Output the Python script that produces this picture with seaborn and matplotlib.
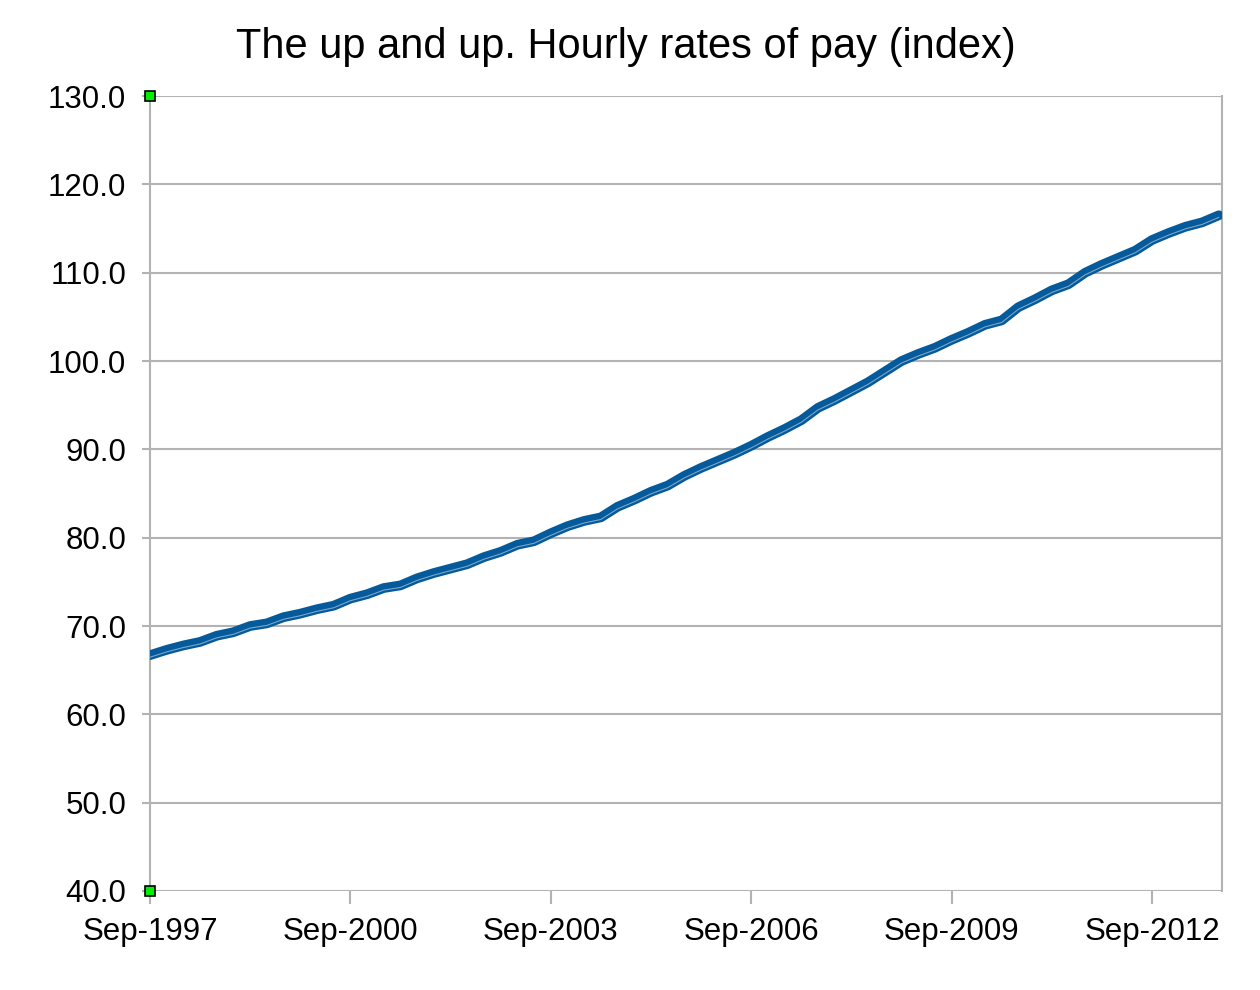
import matplotlib
matplotlib.use("Agg")
import matplotlib.pyplot as plt
import matplotlib.transforms as mtransforms
import pandas as pd
import seaborn as sns

# Quarterly index, Sep-1997 .. Sep-2013
pay_index = [
    66.7, 67.3, 67.8, 68.2, 68.9, 69.3, 70.0, 70.3, 71.0, 71.4,
    71.9, 72.3, 73.1, 73.6, 74.3, 74.6, 75.4, 76.0, 76.5, 77.0,
    77.8, 78.4, 79.2, 79.6, 80.5, 81.3, 81.9, 82.3, 83.5, 84.3,
    85.2, 85.9, 87.0, 87.9, 88.7, 89.5, 90.4, 91.4, 92.3, 93.3,
    94.7, 95.6, 96.6, 97.6, 98.8, 100.0, 100.8, 101.5, 102.4, 103.2,
    104.1, 104.6, 106.1, 107.0, 108.0, 108.7, 110.0, 110.9, 111.7, 112.5,
    113.7, 114.5, 115.2, 115.7, 116.5,
]
quarter = list(range(len(pay_index)))
tick_pos = [0, 12, 24, 36, 48, 60]
tick_labels = ["Sep-1997", "Sep-2000", "Sep-2003", "Sep-2006", "Sep-2009", "Sep-2012"]
y_ticks = [40, 50, 60, 70, 80, 90, 100, 110, 120, 130]

df = pd.DataFrame({"quarter": quarter, "index": pay_index})

sns.set_style("white")
plt.rcParams["font.family"] = ["Liberation Sans", "DejaVu Sans"]
plt.rcParams["text.color"] = "black"
plt.rcParams["xtick.labelcolor"] = "black"
plt.rcParams["ytick.labelcolor"] = "black"

fig = plt.figure(figsize=(12.6, 9.9), dpi=100)
ax = fig.add_axes([0.119, 0.1, 0.851, 0.803])

grid_col = "#b3b3b3"

# main line (dark) plus a thin lighter highlight just below its centre
sns.lineplot(data=df, x="quarter", y="index", ax=ax, color="#045a9a", lw=7, zorder=3)
shift = mtransforms.offset_copy(ax.transData, fig=fig, x=0, y=-1.5, units="points")
ax.plot(df["quarter"], df["index"], color="#7aa6cc", lw=0.8, zorder=4, transform=shift)

ax.set_xlim(0, 64.2)
ax.set_ylim(40, 130)
ax.set_yticks(y_ticks)
ax.set_yticklabels([f"{v:.1f}" for v in y_ticks])
ax.set_xticks(tick_pos)
ax.set_xticklabels(tick_labels)
ax.set_xlabel("")
ax.set_ylabel("")

ax.grid(axis="y", color=grid_col, lw=1.5)
ax.grid(axis="x", visible=False)
for side in ["left", "right"]:
    ax.spines[side].set_color(grid_col)
    ax.spines[side].set_linewidth(1.5)
for side in ["top", "bottom"]:
    ax.spines[side].set_visible(False)

ax.tick_params(axis="y", length=6, width=1.5, color=grid_col, labelsize=22.5, pad=11, left=True)
ax.tick_params(axis="x", length=9, width=1.5, color=grid_col, labelsize=22.5, pad=10, bottom=True)

# green selection handles at the ends of the y axis
ax.plot([0, 0], [40, 130], ls="none", marker="s", ms=7, mfc="#00ee00",
        mec="black", mew=1.2, clip_on=False, zorder=6)

fig.suptitle("The up and up. Hourly rates of pay (index)", fontsize=30,
             y=0.953, va="center", x=0.497)

fig.savefig("out.png", dpi=100)
